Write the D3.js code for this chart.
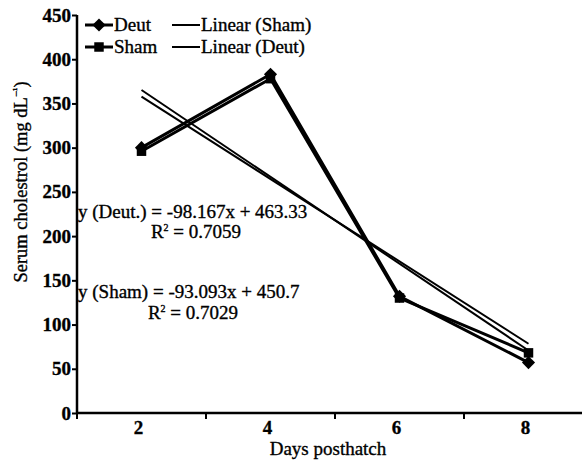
<!DOCTYPE html>
<html><head><meta charset="utf-8">
<script src="https://cdn.jsdelivr.net/npm/d3@7"></script>
<style>body{margin:0;background:#fff;} svg text{font-family:"Liberation Serif","Times New Roman",Times,serif !important;stroke:#000;stroke-width:0.35px;fill:#000;}</style>
</head><body>
<script>
const categories = ["2","4","6","8"];
const deut = [300, 383, 132, 57];
const sham = [296, 378, 130, 68];
const yTicks = [0,50,100,150,200,250,300,350,400,450];
const trendDeut = {slope:-98.167, intercept:463.33, r2:"0.7059", label:"y (Deut.) = -98.167x + 463.33"};
const trendSham = {slope:-93.093, intercept:450.7, r2:"0.7029", label:"y (Sham) = -93.093x + 450.7"};

const W=582,H=460;
const FF="Liberation Serif";
const svg=d3.select("body").append("svg").attr("width",W).attr("height",H).attr("font-family",FF);
const x=d3.scaleBand().domain(categories).range([77,593]).padding(0);
const bw=x.bandwidth();
const y=d3.scaleLinear().domain([0,450]).range([413,15]);
const cx=c=>x(c)+bw/2;
const xi=i=>x(categories[0])+bw/2+(i-1)*bw;
const FS=19, FW="normal";

// y axis
const ya=svg.append("g").attr("transform","translate(77,0)")
  .call(d3.axisLeft(y).tickValues(yTicks).tickSize(5).tickPadding(1));
ya.attr("font-family",FF);
ya.select(".domain").attr("stroke","#000").attr("stroke-width",2.5).attr("d","M0,"+y(0)+"V"+y(450));
ya.selectAll(".tick line").attr("stroke","#000").attr("stroke-width",2);
ya.selectAll(".tick text").attr("font-size",FS).attr("font-weight","bold").attr("font-family",FF).attr("fill","#000");

// x axis
svg.append("line").attr("x1",77).attr("x2",W).attr("y1",y(0)).attr("y2",y(0)).attr("stroke","#000").attr("stroke-width",2.5);
svg.selectAll(".xt").data(categories).enter().append("line")
  .attr("x1",d=>x(d)).attr("x2",d=>x(d)).attr("y1",y(0)).attr("y2",y(0)+6).attr("stroke","#000").attr("stroke-width",2);
svg.selectAll(".xl").data(categories).enter().append("text")
  .attr("x",d=>cx(d)-3).attr("y",y(0)+21).attr("text-anchor","middle")
  .attr("font-size",FS).attr("font-weight","bold").text(d=>d);

// titles
svg.append("text").attr("x",328).attr("y",455).attr("text-anchor","middle").attr("font-size",FS).attr("font-weight",FW).text("Days posthatch");
const yt=svg.append("text").attr("transform","translate(27,182) rotate(-90)").attr("text-anchor","middle").attr("font-size",18.5).attr("font-weight",FW);
yt.append("tspan").text("Serum cholestrol (mg dL");
yt.append("tspan").attr("dy",-7).attr("font-size",11).text("\u2212\u00b9");
yt.append("tspan").attr("dy",7).text(")");

// trend lines
function trend(t){
  svg.append("line").attr("x1",xi(1)).attr("x2",xi(4))
    .attr("y1",y(t.slope*1+t.intercept)).attr("y2",y(t.slope*4+t.intercept))
    .attr("stroke","#000").attr("stroke-width",2);
}
trend(trendSham); trend(trendDeut);

// data lines
const line=d3.line().x((d,i)=>cx(categories[i])).y(d=>y(d));
svg.append("path").datum(sham).attr("d",line).attr("fill","none").attr("stroke","#000").attr("stroke-width",3);
svg.append("path").datum(deut).attr("d",line).attr("fill","none").attr("stroke","#000").attr("stroke-width",3);
const diamond=d3.symbol().type(d3.symbolDiamond2).size(110);
const square=d3.symbol().type(d3.symbolSquare).size(90);
svg.selectAll(".sm").data(sham).enter().append("path").attr("d",square)
  .attr("transform",(d,i)=>`translate(${cx(categories[i])},${y(d)})`).attr("fill","#000");
svg.selectAll(".dm").data(deut).enter().append("path").attr("d",diamond)
  .attr("transform",(d,i)=>`translate(${cx(categories[i])},${y(d)})`).attr("fill","#000");

// equations
svg.append("text").attr("x",78).attr("y",218).attr("font-size",FS).attr("font-weight",FW).text(trendDeut.label);
const r1=svg.append("text").attr("x",196).attr("y",238).attr("text-anchor","middle").attr("font-size",FS).attr("font-weight",FW);
r1.append("tspan").text("R");r1.append("tspan").attr("dy",-7).attr("font-size",10).text("2");r1.append("tspan").attr("dy",7).text(" = "+trendDeut.r2);
svg.append("text").attr("x",78).attr("y",298).attr("font-size",FS).attr("font-weight",FW).text(trendSham.label);
const r2=svg.append("text").attr("x",193).attr("y",319).attr("text-anchor","middle").attr("font-size",FS).attr("font-weight",FW);
r2.append("tspan").text("R");r2.append("tspan").attr("dy",-7).attr("font-size",10).text("2");r2.append("tspan").attr("dy",7).text(" = "+trendSham.r2);

// legend
const leg=[
 {t:"Deut",sym:diamond,x:85,y:25},
 {t:"Sham",sym:square,x:85,y:47},
 {t:"Linear (Sham)",sym:null,x:172,y:25},
 {t:"Linear (Deut)",sym:null,x:172,y:47}];
leg.forEach(l=>{
  svg.append("line").attr("x1",l.x).attr("x2",l.x+28).attr("y1",l.y).attr("y2",l.y).attr("stroke","#000").attr("stroke-width",l.sym?3:2);
  if(l.sym) svg.append("path").attr("d",l.sym).attr("transform",`translate(${l.x+14},${l.y})`).attr("fill","#000");
  svg.append("text").attr("x",l.x+29).attr("y",l.y+6).attr("font-size",FS).attr("font-weight",FW).text(l.t);
});
</script>
</body></html>
